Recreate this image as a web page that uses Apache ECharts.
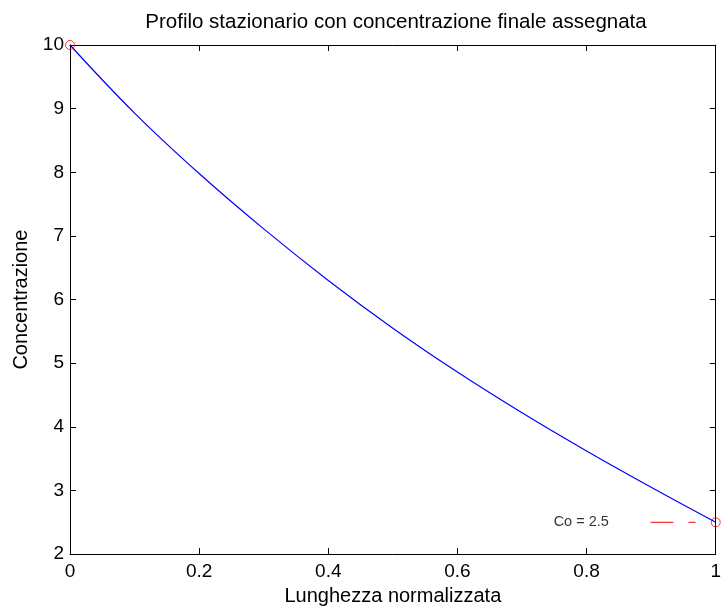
<!DOCTYPE html>
<html>
<head>
<meta charset="utf-8">
<script src="https://cdn.jsdelivr.net/npm/echarts@6/dist/echarts.min.js"></script>
<style>
html,body{margin:0;padding:0;background:#fff;}
#c{width:724px;height:611px;}
</style>
</head>
<body>
<div id="c"></div>
<script>
var titleText = 'Profilo stazionario con concentrazione finale assegnata';
var xName = 'Lunghezza normalizzata';
var yName = 'Concentrazione';
var xPos = [0, 0.1, 0.2, 0.3, 0.4, 0.5, 0.6, 0.7, 0.8, 0.9, 1.0];
var conc = [10, 8.93, 7.98, 7.11, 6.30, 5.55, 4.86, 4.22, 3.62, 3.05, 2.50];
var endX = [0, 1];
var endY = [10, 2.5];
var coLineX = [0.899, 0.969];
var coLineY = [2.5, 2.5];
var coLabelX = 0.749;
var coLabelY = 2.5;
var coLabelText = 'Co = 2.5';

function pairs(xs, ys){ return xs.map(function(x,i){ return [x, ys[i]]; }); }

var FONT = 'Liberation Sans, Arial, sans-serif';
var chart = echarts.init(document.getElementById('c'), null, {renderer:'canvas'});
var axisCommon = {
  axisLine:{show:true, onZero:false, lineStyle:{color:'#000', width:1}},
  axisTick:{show:true, inside:true, length:6, lineStyle:{color:'#000', width:1}},
  splitLine:{show:false}
};
chart.setOption({
  animation:false,
  backgroundColor:'#fff',
  title:{
    text:titleText, left:396, top:12, textAlign:'center', padding:0,
    textStyle:{fontFamily:FONT, fontSize:20.5, fontWeight:'normal', color:'#000'}
  },
  grid:{left:70, top:45, width:652, height:516, containLabel:false},
  xAxis:[
    Object.assign({type:'value', position:'bottom', min:0, max:1, interval:0.2,
      name:xName, nameLocation:'middle', nameGap:30,
      nameTextStyle:{fontFamily:FONT, fontSize:20, color:'#000'},
      axisLabel:{fontFamily:FONT, fontSize:19, color:'#000', margin:8,
        formatter:function(v){ return String(Math.round(v*10)/10); }}
    }, axisCommon),
    Object.assign({type:'value', position:'top', min:0, max:1, interval:0.2,
      axisLabel:{show:false}}, axisCommon)
  ],
  yAxis:[
    Object.assign({type:'value', position:'left', min:2, max:10, interval:1,
      name:yName, nameLocation:'middle', nameGap:34, nameRotate:90,
      nameTextStyle:{fontFamily:FONT, fontSize:20, color:'#000'},
      axisLabel:{fontFamily:FONT, fontSize:19, color:'#000', margin:6}
    }, axisCommon),
    Object.assign({type:'value', position:'right', min:2, max:10, interval:1,
      axisLabel:{show:false}}, axisCommon)
  ],
  series:[
    {type:'line', data:pairs(xPos, conc), smooth:0.4,
     showSymbol:false, symbol:'none', lineStyle:{color:'#0000ff', width:1.2}, z:3},
    {type:'line', data:pairs(coLineX, coLineY), symbol:'none',
     lineStyle:{color:'#ff0000', width:1, type:[23,15]}, z:2},
    {type:'scatter', data:pairs(endX, endY), symbol:'circle', symbolSize:9,
     itemStyle:{color:'rgba(0,0,0,0)', borderColor:'#ff0000', borderWidth:1}, z:4},
    {type:'scatter', data:[[coLabelX, coLabelY]], symbolSize:0,
     label:{show:true, position:'right', distance:0, formatter:coLabelText,
       fontFamily:FONT, fontSize:14.5, color:'#000'}, z:5}
  ]
});
</script>
</body>
</html>
